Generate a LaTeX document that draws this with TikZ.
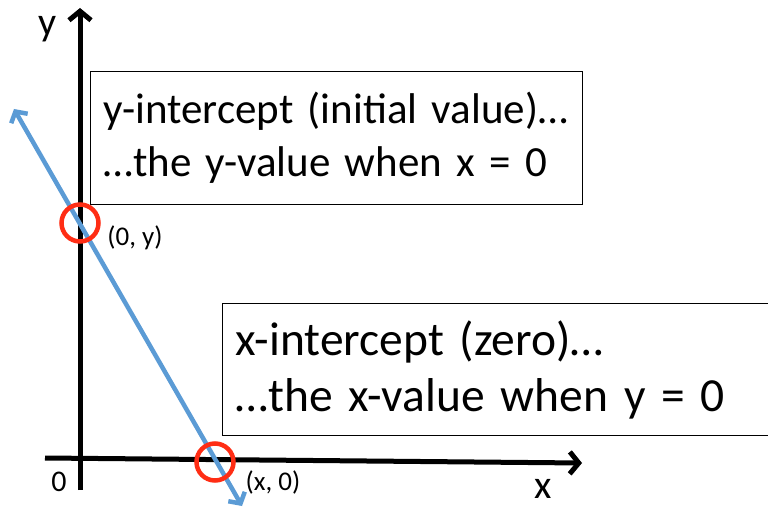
\documentclass[tikz,border=0pt]{standalone}
\usepackage{fontspec}
\setmainfont{Carlito}
\usetikzlibrary{arrows.meta}
\definecolor{lineblue}{RGB}{91,155,213}
\definecolor{ringred}{RGB}{255,45,20}

\begin{document}
\begin{tikzpicture}[
    x=1pt, y=-1pt,
    myaxis/.style={line width=5pt, -{Straight Barb[length=9pt, width=22pt]}},
    myline/.style={line width=4.5pt, lineblue, {Straight Barb[length=8pt, width=19pt]}-{Straight Barb[length=8pt, width=19pt]}},
    myring/.style={circle, draw=ringred, line width=4.5pt, minimum size=37pt, inner sep=0pt},
    mybox/.style={draw, line width=1.2pt, anchor=north west, align=left, inner xsep=13pt, inner ysep=0pt},
    mylabel/.style={font=\fontsize{27}{30}\selectfont}
]
    \useasboundingbox (0,0) rectangle (768,508);
    \clip (0,0) rectangle (768,508);

    % Axes
    \coordinate (xstart) at (45,458);
    \coordinate (xend) at (582,463);
    \coordinate (ystart) at (80,490);
    \coordinate (yend) at (80,8);
    \draw[myaxis] (xstart) -- (xend);
    \draw[myaxis] (ystart) -- (yend);
    \node[font=\fontsize{40}{44}\selectfont, inner sep=1pt] (ylab) at (48,29) {y};
    \node[font=\fontsize{40}{44}\selectfont, inner sep=1pt] (xlab) at (543,489) {x};
    \node[font=\fontsize{30}{34}\selectfont] (orig) at (59,482) {0};

    % Line and intercepts
    \coordinate (ltop) at (14,109);
    \coordinate (lbot) at (242,506);
    \draw[myline] (ltop) -- (lbot);
    \node[myring] (yint) at (80,223) {};
    \node[myring] (xint) at (215,462) {};
    \node[mylabel] (yintlab) at (135,238) {(0, y)};
    \node[mylabel] (xintlab) at (273,482) {(x, 0)};

    % Boxes
    \node[mybox, font=\fontsize{43}{53}\selectfont, text width=466pt, minimum height=133pt] (ybox) at (90,71)
        {y-intercept (initial value)…\\…the y-value when x = 0};
    \node[mybox, font=\fontsize{47.5}{56}\selectfont, text width=600pt, minimum height=132pt] (xbox) at (222,303)
        {x-intercept (zero)…\\…the x-value when y = 0};
\end{tikzpicture}
\end{document}
